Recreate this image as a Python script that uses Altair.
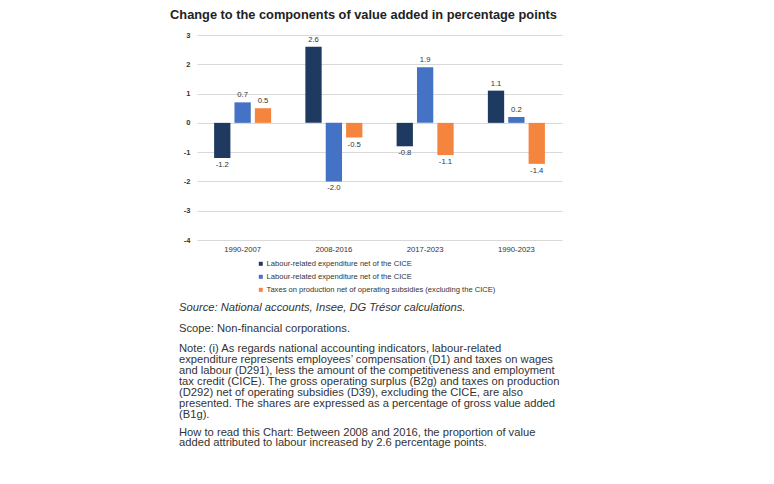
import altair as alt
import pandas as pd

periods = ["1990-2007", "2008-2016", "2017-2023", "1990-2023"]
series_keys = ["s1", "s2", "s3"]
series_labels = [
    "Labour-related expenditure net of the CICE",
    "Labour-related expenditure net of the CICE",
    "Taxes on production net of operating subsidies (excluding the CICE)",
]
series_colors = ["#1f3a60", "#4472c4", "#f4843e"]
labour_a = [-1.2, 2.6, -0.8, 1.1]
labour_b = [0.7, -2.0, 1.9, 0.2]
taxes = [0.5, -0.5, -1.1, -1.4]
y_ticks = [-4, -3, -2, -1, 0, 1, 2, 3]

title_text = "Change to the components of value added in percentage points"
source_text = "Source: National accounts, Insee, DG Trésor calculations."
scope_text = "Scope: Non-financial corporations."
note_lines = [
    "Note: (i) As regards national accounting indicators, labour-related",
    "expenditure represents employees\u2019 compensation (D1) and taxes on wages",
    "and labour (D291), less the amount of the competitiveness and employment",
    "tax credit (CICE). The gross operating surplus (B2g) and taxes on production",
    "(D292) net of operating subsidies (D39), excluding the CICE, are also",
    "presented. The shares are expressed as a percentage of gross value added",
    "(B1g).",
]
howto_lines = [
    "How to read this Chart: Between 2008 and 2016, the proportion of value",
    "added attributed to labour increased by 2.6 percentage points.",
]

rows = []
for i, p in enumerate(periods):
    for k, vals in zip(series_keys, [labour_a, labour_b, taxes]):
        rows.append({"period": p, "series": k, "value": vals[i]})
df = pd.DataFrame(rows)

label_expr = "{" + ",".join(f"'{k}': '{l}'" for k, l in zip(series_keys, series_labels)) + "}[datum.label]"
MINUS = "\u2212"

FONT = "Liberation Sans"
TXT = "#333333"

x_enc = alt.X(
    "period:N", sort=periods,
    scale=alt.Scale(paddingInner=0.375, paddingOuter=0.1875),
    axis=alt.Axis(title=None, labelAngle=0, domain=False, ticks=False,
                  labelFontSize=7.7, labelPadding=5, labelColor=TXT, labelFont=FONT),
)
xo_enc = alt.XOffset("series:N", sort=series_keys, scale=alt.Scale(paddingInner=0.2))
y_enc = alt.Y(
    "value:Q", scale=alt.Scale(domain=[-4, 3], nice=False, zero=False),
    axis=alt.Axis(values=y_ticks, title=None, domain=False, ticks=False, grid=True,
                  gridColor="#d9d9d9", gridWidth=1, labelPadding=7, format="d",
                  labelExpr=f"replace(datum.label, '{MINUS}', '-')",
                  labelFontSize=7.5, labelFontWeight="bold", labelColor=TXT,
                  labelFont=FONT),
)

base = alt.Chart(df).encode(x=x_enc, xOffset=xo_enc, y=y_enc)

bars = base.mark_bar().encode(
    color=alt.Color(
        "series:N",
        scale=alt.Scale(domain=series_keys, range=series_colors),
        legend=alt.Legend(
            orient="none", legendX=60, legendY=225, title=None,
            labelExpr=label_expr, symbolType="square", symbolSize=16,
            symbolStrokeWidth=0, labelFontSize=7.6, labelColor=TXT, labelFont=FONT,
            rowPadding=4, labelOffset=2, labelLimit=400,
        ),
    )
)

lbl = base.transform_calculate(
    lbl=f"replace(format(datum.value, '.1f'), '{MINUS}', '-')"
)

pos_labels = lbl.transform_filter("datum.value >= 0").mark_text(
    baseline="bottom", dy=-3, fontSize=7.7, color=TXT, font=FONT
).encode(text="lbl:N")

neg_labels = lbl.transform_filter("datum.value < 0").mark_text(
    baseline="top", dy=3, fontSize=7.7, color=TXT, font=FONT
).encode(text="lbl:N")

dummy = pd.DataFrame({"k": [0]})

def para(lines, ypos, italic=False):
    return alt.Chart(dummy).mark_text(
        align="left", baseline="alphabetic", fontSize=11.2, lineHeight=10.95,
        font=FONT, color=TXT, fontStyle="italic" if italic else "normal",
    ).encode(x=alt.value(-18), y=alt.value(ypos), text=alt.value(lines))

notes = (
    para([source_text], 275.7, italic=True)
    + para([scope_text], 296.7)
    + para(note_lines, 317.3)
    + para(howto_lines, 400.5)
)

chart = alt.layer(bars, pos_labels, neg_labels, notes).properties(
    width=365, height=205,
    padding={"left": 189, "top": 27, "right": 200, "bottom": 230},
    autosize="none",
    background="white",
    title=alt.Title(title_text, fontSize=12.8, fontWeight="bold", color="#222222",
                    font=FONT, anchor="middle", dx=-16, offset=0, dy=0.5,
                    baseline="alphabetic", frame="group"),
).configure_view(stroke=None)

chart.save("out.html", embed_options={"renderer": "svg", "actions": False})
